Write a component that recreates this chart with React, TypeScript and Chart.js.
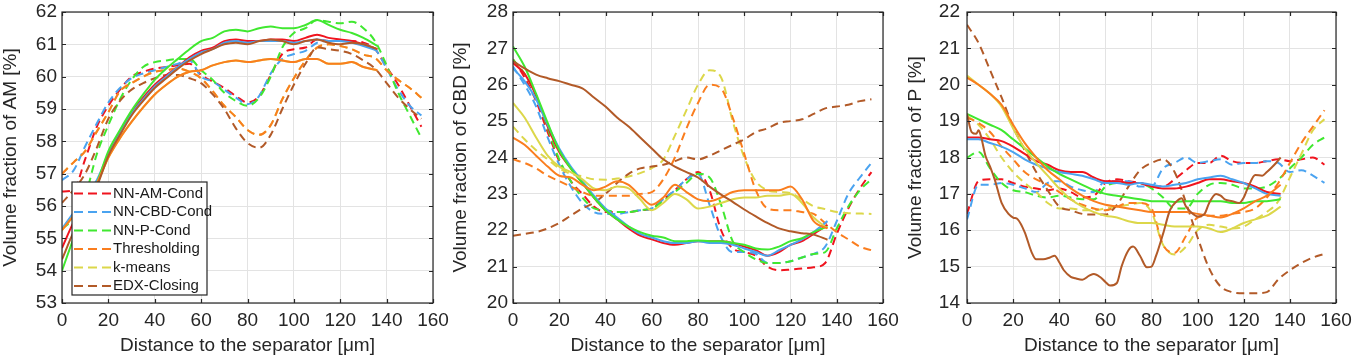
import React, { useEffect, useRef } from 'react';
import { Chart, registerables } from 'chart.js';

Chart.register(...registerables);

// ---------- shared ----------
const SERIES_NAMES = ['NN-AM-Cond', 'NN-CBD-Cond', 'NN-P-Cond', 'Thresholding', 'k-means', 'EDX-Closing'];
const COLORS = ['#f0141e', '#4aa3f0', '#40e830', '#fa7d1e', '#dcd74a', '#b25a28'];
const X_SOLID = [0, 5, 10, 15, 20, 25, 30, 35, 40, 45, 50, 55, 60, 65, 70, 75, 80, 85, 90, 95, 100, 105, 110, 115, 120, 125, 130, 136];
const X_DASHED = [0, 5, 10, 15, 20, 25, 30, 35, 40, 45, 50, 55, 60, 65, 70, 75, 80, 85, 90, 95, 100, 105, 110, 115, 120, 125, 130, 135, 140, 145, 150, 155];
const X_TITLE = 'Distance to the separator [μm]';

// ---------- AM panel ----------
const AM_SOLID_RED = [54.7, 55.5, 56.1, 56.7, 57.6, 58.3, 58.9, 59.35, 59.75, 60.05, 60.3, 60.6, 60.8, 60.9, 61.1, 61.15, 61.1, 61.1, 61.15, 61.15, 61.1, 61.2, 61.3, 61.2, 61.15, 61.1, 61.0, 60.85];
const AM_SOLID_BLUE = [55.3, 55.8, 56.3, 56.8, 57.6, 58.25, 58.85, 59.3, 59.7, 60.0, 60.3, 60.55, 60.75, 60.85, 61.05, 61.1, 61.05, 61.1, 61.1, 61.1, 61.05, 61.1, 61.15, 61.1, 61.1, 61.05, 60.95, 60.8];
const AM_SOLID_GREEN = [54.0, 55.0, 55.9, 56.7, 57.7, 58.35, 58.95, 59.45, 59.9, 60.25, 60.55, 60.85, 61.1, 61.2, 61.4, 61.45, 61.4, 61.5, 61.55, 61.5, 61.5, 61.6, 61.75, 61.6, 61.45, 61.35, 61.2, 60.95];
const AM_SOLID_ORANGE = [55.25, 55.7, 56.2, 56.7, 57.5, 58.1, 58.6, 59.05, 59.45, 59.75, 60.0, 60.15, 60.2, 60.35, 60.45, 60.5, 60.45, 60.5, 60.55, 60.5, 60.45, 60.55, 60.55, 60.4, 60.4, 60.45, 60.3, 60.2];
const AM_SOLID_YELLOW = [55.25, 55.7, 56.2, 56.7, 57.5, 58.1, 58.6, 59.05, 59.45, 59.75, 60.0, 60.15, 60.2, 60.35, 60.45, 60.5, 60.45, 60.5, 60.55, 60.5, 60.45, 60.55, 60.55, 60.4, 60.4, 60.45, 60.3, 60.2];
const AM_SOLID_BROWN = [54.35, 55.2, 55.9, 56.6, 57.55, 58.2, 58.8, 59.25, 59.65, 59.95, 60.25, 60.5, 60.7, 60.85, 61.0, 61.05, 61.0, 61.1, 61.15, 61.1, 61.0, 61.1, 61.15, 61.05, 61.0, 61.05, 61.0, 60.85];

const AM_DASH_RED = [56.45, 56.5, 57.45, 58.45, 59.1, 59.6, 60.0, 60.15, 60.25, 60.3, 60.35, 60.4, 60.05, 59.85, 59.65, 59.4, 59.2, 59.4, 60.05, 60.7, 60.85, 60.9, 61.15, 61.1, 61.1, 61.1, 61.05, 60.85, 60.3, 59.75, 59.1, 58.45];
const AM_DASH_BLUE = [56.8, 57.1, 57.85, 58.55, 59.2, 59.65, 59.95, 60.1, 60.2, 60.3, 60.4, 60.5, 60.0, 59.85, 59.6, 59.35, 59.15, 59.4, 60.1, 60.55, 60.7, 60.8, 61.05, 61.1, 61.1, 61.05, 61.0, 60.85, 60.25, 59.6, 59.1, 58.8];
const AM_DASH_GREEN = [55.3, 55.6, 56.3, 57.6, 58.5, 59.3, 59.9, 60.3, 60.45, 60.5, 60.55, 60.55, 60.2, 59.9, 59.5, 59.25, 59.1, 59.35, 60.0, 60.9, 61.35, 61.5, 61.75, 61.7, 61.65, 61.7, 61.5, 61.1, 60.35, 59.5, 58.8, 58.1];
const AM_DASH_ORANGE = [57.0, 57.35, 57.7, 58.3, 58.9, 59.55, 59.8, 60.0, 60.15, 60.2, 60.25, 60.15, 59.95, 59.55, 59.1, 58.75, 58.35, 58.2, 58.5, 59.3, 59.95, 60.5, 60.9, 61.0, 60.95, 60.85, 60.68, 60.58, 60.2, 59.9, 59.65, 59.35];
const AM_DASH_YELLOW = [57.0, 57.35, 57.7, 58.3, 58.9, 59.55, 59.8, 60.0, 60.15, 60.2, 60.25, 60.15, 59.95, 59.55, 59.1, 58.75, 58.35, 58.2, 58.5, 59.3, 59.95, 60.5, 60.9, 61.0, 60.95, 60.85, 60.68, 60.58, 60.2, 59.9, 59.65, 59.35];
const AM_DASH_BROWN = [56.1, 56.5, 57.0, 57.8, 58.7, 59.25, 59.6, 59.8, 59.95, 60.05, 60.05, 59.95, 59.8, 59.45, 59.0, 58.4, 57.95, 57.8, 58.2, 59.0, 59.75, 60.4, 60.9, 60.85, 60.8, 60.7, 60.5, 60.25, 59.8, 59.35, 59.0, 58.7];

// ---------- CBD panel ----------
const CBD_SOLID_RED = [26.6, 26.3, 25.7, 24.85, 24.15, 23.7, 23.3, 22.9, 22.55, 22.3, 22.05, 21.85, 21.75, 21.65, 21.6, 21.65, 21.7, 21.7, 21.7, 21.65, 21.55, 21.45, 21.3, 21.4, 21.6, 21.7, 21.9, 22.15];
const CBD_SOLID_BLUE = [26.45, 26.1, 25.6, 24.9, 24.25, 23.75, 23.35, 22.95, 22.6, 22.35, 22.1, 21.9, 21.8, 21.7, 21.65, 21.65, 21.7, 21.65, 21.65, 21.6, 21.5, 21.4, 21.3, 21.45, 21.6, 21.75, 21.95, 22.25];
const CBD_SOLID_GREEN = [27.05, 26.5, 25.75, 24.95, 24.2, 23.7, 23.3, 22.9, 22.55, 22.3, 22.1, 21.95, 21.85, 21.8, 21.7, 21.7, 21.72, 21.7, 21.7, 21.65, 21.6, 21.5, 21.47, 21.55, 21.7, 21.78, 21.95, 22.1];
const CBD_SOLID_ORANGE = [24.55, 24.35, 24.05, 23.75, 23.5, 23.45, 23.25, 23.1, 23.2, 23.35, 23.25, 22.95, 22.7, 22.9, 23.25, 23.05, 22.85, 22.8, 22.9, 23.05, 23.1, 23.1, 23.1, 23.1, 23.2, 22.85, 22.25, 22.05];
const CBD_SOLID_YELLOW = [25.5, 25.1, 24.55, 24.05, 23.75, 23.6, 23.4, 23.15, 23.1, 23.2, 23.15, 22.85, 22.55, 22.75, 23.0, 22.85, 22.6, 22.65, 22.75, 22.85, 22.9, 22.9, 22.95, 22.95, 23.0, 22.75, 22.35, 22.05];
const CBD_SOLID_BROWN = [26.65, 26.45, 26.28, 26.18, 26.1, 26.0, 25.9, 25.65, 25.4, 25.1, 24.85, 24.55, 24.25, 23.95, 23.75, 23.6, 23.45, 23.2, 22.98, 22.78, 22.57, 22.38, 22.2, 22.05, 21.97, 21.92, 21.88, 21.74];

const CBD_DASH_RED = [26.7, 26.2, 25.55, 24.7, 23.9, 23.35, 23.0, 22.65, 22.5, 22.5, 22.5, 22.55, 22.6, 22.85, 23.1, 23.4, 23.6, 23.1, 22.0, 21.5, 21.4, 21.3, 21.0, 20.9, 20.92, 20.95, 20.98, 21.1, 21.9, 22.6, 23.15, 23.6];
const CBD_DASH_BLUE = [26.5, 26.0, 25.4, 24.55, 23.8, 23.2, 22.75, 22.5, 22.45, 22.45, 22.5, 22.55, 22.6, 22.85, 23.1, 23.4, 23.55, 22.7, 21.8, 21.4, 21.4, 21.35, 21.1, 21.1, 21.15, 21.25, 21.35, 21.55, 22.25, 23.0, 23.45, 23.85];
const CBD_DASH_GREEN = [26.7, 26.3, 25.7, 24.8, 23.95, 23.35, 22.9, 22.6, 22.55, 22.5, 22.5, 22.55, 22.6, 22.8, 23.05, 23.3, 23.55, 23.45, 22.7, 21.7, 21.4, 21.2, 21.1, 21.1, 21.15, 21.25, 21.35, 21.4, 22.05, 22.65, 23.1, 23.4];
const CBD_DASH_ORANGE = [23.95, 23.85, 23.7, 23.5, 23.35, 23.2, 23.05, 22.95, 22.95, 22.95, 22.95, 23.0, 23.05, 23.4, 24.0, 24.8, 25.5, 26.0, 25.9, 25.1, 24.1, 23.1, 22.6, 22.55, 22.55, 22.5, 22.45, 22.2, 21.95, 21.75, 21.55, 21.45];
const CBD_DASH_YELLOW = [24.85, 24.5, 24.2, 23.95, 23.7, 23.55, 23.48, 23.4, 23.39, 23.42, 23.48, 23.57, 23.71, 23.94, 24.6, 25.3, 26.0, 26.4, 26.2, 25.0, 24.0, 23.35, 23.1, 23.05, 23.02, 22.85, 22.66, 22.58, 22.5, 22.47, 22.46, 22.45];
const CBD_DASH_BROWN = [21.85, 21.9, 21.95, 22.05, 22.2, 22.4, 22.6, 22.75, 23.0, 23.3, 23.55, 23.7, 23.75, 23.8, 23.9, 24.0, 23.95, 24.05, 24.2, 24.35, 24.5, 24.7, 24.8, 24.95, 25.0, 25.05, 25.2, 25.35, 25.4, 25.45, 25.55, 25.6];

// ---------- P panel ----------
const P_SOLID_RED = [18.55, 18.55, 18.5, 18.45, 18.3, 18.1, 17.9, 17.8, 17.65, 17.6, 17.6, 17.45, 17.35, 17.35, 17.3, 17.3, 17.2, 17.15, 17.15, 17.2, 17.3, 17.4, 17.4, 17.35, 17.3, 17.2, 17.05, 17.0];
const P_SOLID_BLUE = [18.5, 18.5, 18.4, 18.3, 18.15, 17.95, 17.8, 17.7, 17.6, 17.55, 17.5, 17.4, 17.3, 17.3, 17.25, 17.3, 17.25, 17.2, 17.25, 17.3, 17.4, 17.45, 17.5, 17.4, 17.3, 17.15, 17.0, 16.95];
const P_SOLID_GREEN = [19.2, 19.05, 18.9, 18.75, 18.5, 18.25, 18.0, 17.75, 17.55, 17.4, 17.25, 17.1, 17.0, 16.95, 16.9, 16.85, 16.8, 16.8, 16.78, 16.8, 16.8, 16.8, 16.8, 16.75, 16.75, 16.8, 16.8, 16.85];
const P_SOLID_ORANGE = [20.2, 20.0, 19.75, 19.45, 18.9, 18.4, 18.0, 17.65, 17.4, 17.15, 16.95, 16.8, 16.7, 16.65, 16.6, 16.55, 16.5, 16.5, 16.5, 16.5, 16.45, 16.4, 16.35, 16.45, 16.6, 16.8, 16.95, 17.25];
const P_SOLID_YELLOW = [20.25, 20.0, 19.75, 19.4, 18.8, 18.25, 17.85, 17.5, 17.15, 16.85, 16.65, 16.5, 16.4, 16.35, 16.25, 16.2, 16.2, 16.15, 16.1, 16.1, 16.1, 16.05, 15.95, 16.05, 16.2, 16.3, 16.4, 16.65];
const P_SOLID_BROWN_X = [0, 2, 4, 5, 6, 8, 10, 12, 15, 18, 20, 22, 25, 28, 30, 33, 36, 38, 40, 42, 45, 47, 50, 53, 55, 58, 60, 62, 65, 67, 70, 72, 75, 78, 80, 82, 85, 88, 91, 93, 95, 97, 100, 103, 105, 108, 110, 112, 115, 118, 120, 122, 125, 128, 130, 132, 134, 136];
const P_SOLID_BROWN = [19.2, 18.7, 18.65, 18.75, 18.6, 18.05, 17.75, 17.4, 16.75, 16.45, 16.35, 16.3, 15.95, 15.4, 15.2, 15.2, 15.25, 15.3, 15.12, 14.9, 14.72, 14.68, 14.64, 14.75, 14.8, 14.7, 14.58, 14.48, 14.55, 15.0, 15.45, 15.55, 15.3, 14.98, 15.0, 15.3, 15.9, 16.55, 16.8, 16.88, 16.65, 16.5, 16.38, 16.45, 16.75, 17.0, 16.95, 16.84, 16.8, 16.75, 16.9, 17.2, 17.52, 17.5, 17.6, 17.72, 17.85, 18.0];

const P_DASH_RED = [16.45, 17.35, 17.4, 17.4, 17.3, 17.2, 17.15, 17.1, 17.15, 17.05, 16.9, 16.95, 17.3, 17.4, 17.35, 17.3, 17.2, 17.2, 17.4, 17.65, 17.85, 17.85, 18.05, 17.9, 17.85, 17.85, 17.9, 17.95, 17.9, 17.95, 18.0, 17.8];
const P_DASH_BLUE = [16.3, 17.25, 17.25, 17.3, 17.25, 17.15, 17.05, 17.3, 17.35, 17.2, 17.1, 17.05, 17.35, 17.35, 17.35, 17.2, 17.2, 17.7, 17.85, 18.0, 17.85, 17.9, 17.95, 17.8, 17.85, 17.85, 17.9, 17.85, 17.6, 17.65, 17.5, 17.3];
const P_DASH_GREEN = [18.0, 18.15, 17.7, 17.3, 17.1, 17.05, 16.95, 16.9, 16.95, 16.9, 16.85, 16.85, 17.2, 17.3, 17.3, 17.3, 17.15, 16.9, 16.6, 16.6, 17.0, 17.25, 17.3, 17.25, 17.15, 17.15, 17.2, 17.4, 17.7, 18.0, 18.35, 18.55];
const P_DASH_ORANGE = [19.1, 18.95, 18.7, 18.3, 17.95, 17.6, 17.4, 17.25, 17.05, 16.85, 16.7, 16.6, 16.55, 16.65, 16.75, 16.75, 16.6, 15.6, 15.38, 15.85, 16.35, 16.4, 16.4, 16.45, 16.5, 16.6, 16.9, 17.3, 17.85, 18.4, 18.85, 19.3];
const P_DASH_YELLOW = [19.15, 18.9, 18.5, 18.0, 17.6, 17.3, 17.05, 16.75, 16.6, 16.6, 16.55, 16.55, 16.6, 16.65, 16.7, 16.75, 16.5, 15.6, 15.33, 15.55, 16.0, 16.15, 16.1, 16.05, 16.1, 16.3, 16.5, 16.8, 17.45, 18.1, 18.75, 19.05];
const P_DASH_BROWN = [21.65, 21.15, 20.4, 19.65, 18.85, 18.2, 17.6, 17.1, 16.65, 16.55, 16.45, 16.43, 16.43, 16.7, 17.2, 17.65, 17.85, 17.95, 17.6, 16.75, 15.8, 14.95, 14.45, 14.3, 14.27, 14.27, 14.3, 14.65, 14.9, 15.1, 15.25, 15.35];

type PanelDef = {
  left: number; width: number; yAxisW: number; tickPad: number; rightPad: number;
  yMin: number; yMax: number; yTitle: string;
  solid: number[][]; dashed: number[][]; solidX?: (number[] | null)[]; legend?: boolean;
};

const PANELS: PanelDef[] = [
  {
    left: 0, width: 456, yAxisW: 62, tickPad: 5, rightPad: 23, yMin: 53, yMax: 62,
    yTitle: 'Volume fraction of AM [%]',
    solid: [AM_SOLID_RED, AM_SOLID_BLUE, AM_SOLID_GREEN, AM_SOLID_ORANGE, AM_SOLID_YELLOW, AM_SOLID_BROWN],
    dashed: [AM_DASH_RED, AM_DASH_BLUE, AM_DASH_GREEN, AM_DASH_ORANGE, AM_DASH_YELLOW, AM_DASH_BROWN],
    legend: true,
  },
  {
    left: 450, width: 456, yAxisW: 63, tickPad: 5, rightPad: 23, yMin: 20, yMax: 28,
    yTitle: 'Volume fraction of CBD [%]',
    solid: [CBD_SOLID_RED, CBD_SOLID_BLUE, CBD_SOLID_GREEN, CBD_SOLID_ORANGE, CBD_SOLID_YELLOW, CBD_SOLID_BROWN],
    dashed: [CBD_DASH_RED, CBD_DASH_BLUE, CBD_DASH_GREEN, CBD_DASH_ORANGE, CBD_DASH_YELLOW, CBD_DASH_BROWN],
  },
  {
    left: 905, width: 450, yAxisW: 62, tickPad: 7, rightPad: 19, yMin: 14, yMax: 22,
    yTitle: 'Volume fraction of P [%]',
    solid: [P_SOLID_RED, P_SOLID_BLUE, P_SOLID_GREEN, P_SOLID_ORANGE, P_SOLID_YELLOW, P_SOLID_BROWN],
    dashed: [P_DASH_RED, P_DASH_BLUE, P_DASH_GREEN, P_DASH_ORANGE, P_DASH_YELLOW, P_DASH_BROWN],
    solidX: [null, null, null, null, null, P_SOLID_BROWN_X],
  },
];

// draw order (bottom first): red, blue, green, yellow, orange, brown
const DRAW_ORDER = [0, 1, 2, 4, 3, 5];
const FONT = '"Liberation Sans", Arial, Helvetica, sans-serif';
const INK = '#262626';

function makeFramePlugin(legend: boolean) {
  return {
    id: 'frameAndLegend',
    afterDatasetsDraw(chart: any) {
      const { ctx, chartArea } = chart;
      const { left, top, right, bottom } = chartArea;
      const xs = chart.scales.x;
      const ys = chart.scales.y;
      ctx.save();
      ctx.strokeStyle = INK;
      ctx.lineWidth = 1.2;
      ctx.setLineDash([]);
      const tl = 4;
      ctx.beginPath();
      xs.ticks.forEach((t: any) => {
        const px = Math.round(xs.getPixelForValue(t.value)) + 0.5;
        ctx.moveTo(px, bottom); ctx.lineTo(px, bottom - tl);
        ctx.moveTo(px, top); ctx.lineTo(px, top + tl);
      });
      ys.ticks.forEach((t: any) => {
        const py = Math.round(ys.getPixelForValue(t.value)) + 0.5;
        ctx.moveTo(left, py); ctx.lineTo(left + tl, py);
        ctx.moveTo(right, py); ctx.lineTo(right - tl, py);
      });
      ctx.stroke();
      ctx.strokeRect(left, top, right - left, bottom - top);

      if (legend) {
        const lx = 72, ly = 182, lw = 135, lh = 113;
        ctx.fillStyle = '#ffffff';
        ctx.fillRect(lx, ly, lw, lh);
        ctx.strokeStyle = INK;
        ctx.lineWidth = 1.2;
        ctx.strokeRect(lx, ly, lw, lh);
        ctx.font = `15px ${FONT}`;
        ctx.textBaseline = 'middle';
        ctx.textAlign = 'left';
        SERIES_NAMES.forEach((name, i) => {
          const cy = ly + 11.5 + i * 18.5;
          ctx.setLineDash([9, 5]);
          ctx.strokeStyle = COLORS[i];
          ctx.lineWidth = 2;
          ctx.beginPath();
          ctx.moveTo(lx + 2, cy); ctx.lineTo(lx + 39, cy);
          ctx.stroke();
          ctx.setLineDash([]);
          ctx.fillStyle = '#1a1a1a';
          ctx.fillText(name, lx + 41, cy);
        });
      }
      ctx.restore();
    },
  };
}

function buildDatasets(p: PanelDef) {
  const list: any[] = [];
  DRAW_ORDER.forEach((i) => {
    list.push({
      label: SERIES_NAMES[i] + ' (dashed)',
      data: X_DASHED.map((x, k) => ({ x, y: p.dashed[i][k] })),
      borderColor: COLORS[i],
      borderWidth: 2,
      borderDash: [8, 5],
      pointRadius: 0,
      fill: false,
      cubicInterpolationMode: 'monotone',
    });
  });
  DRAW_ORDER.forEach((i) => {
    const xs = (p.solidX && p.solidX[i]) || X_SOLID;
    list.push({
      label: SERIES_NAMES[i],
      data: xs.map((x, k) => ({ x, y: p.solid[i][k] })),
      borderColor: COLORS[i],
      borderWidth: 2,
      pointRadius: 0,
      fill: false,
      cubicInterpolationMode: 'monotone',
    });
  });
  // Chart.js draws dataset 0 last (on top), so reverse
  return list.reverse();
}

function Panel({ p }: { p: PanelDef }) {
  const ref = useRef<HTMLCanvasElement | null>(null);
  useEffect(() => {
    if (!ref.current) return;
    const chart = new Chart(ref.current, {
      type: 'line',
      data: { datasets: buildDatasets(p) },
      options: {
        responsive: false,
        animation: false,
        devicePixelRatio: 1,
        layout: { padding: { top: 12, right: p.rightPad, bottom: 0, left: 0 } },
        plugins: { legend: { display: false }, tooltip: { enabled: false } },
        scales: {
          x: {
            type: 'linear',
            min: 0, max: 160,
            ticks: { stepSize: 20, color: INK, font: { family: FONT, size: 19 }, padding: 6, maxRotation: 0 },
            grid: { color: '#e3e3e3', lineWidth: 1, drawTicks: false },
            border: { display: false },
            title: { display: true, text: X_TITLE, color: INK, font: { family: FONT, size: 19, lineHeight: 1.2 }, padding: 0 },
            afterFit: (s: any) => { s.height = 54; s.paddingLeft = 0; s.paddingRight = 0; },
          },
          y: {
            type: 'linear',
            min: p.yMin, max: p.yMax,
            ticks: { stepSize: 1, color: INK, font: { family: FONT, size: 19 }, padding: p.tickPad },
            grid: { color: '#e3e3e3', lineWidth: 1, drawTicks: false },
            border: { display: false },
            title: { display: true, text: p.yTitle, color: INK, font: { family: FONT, size: 19, lineHeight: 1.1 }, padding: 0 },
            afterFit: (s: any) => { s.width = p.yAxisW; s.paddingTop = 0; s.paddingBottom = 0; },
          },
        },
      } as any,
      plugins: [makeFramePlugin(!!p.legend)],
    });
    return () => chart.destroy();
  }, [p]);
  return (
    <div style={{ position: 'absolute', left: p.left, top: 0, width: p.width, height: 357 }}>
      <canvas ref={ref} width={p.width} height={357} style={{ display: 'block' }} />
    </div>
  );
}

export default function App() {
  return (
    <div style={{ position: 'absolute', left: 0, top: 0, width: 1355, height: 357, background: '#ffffff', overflow: 'hidden' }}>
      {PANELS.map((p, i) => <Panel key={i} p={p} />)}
    </div>
  );
}
